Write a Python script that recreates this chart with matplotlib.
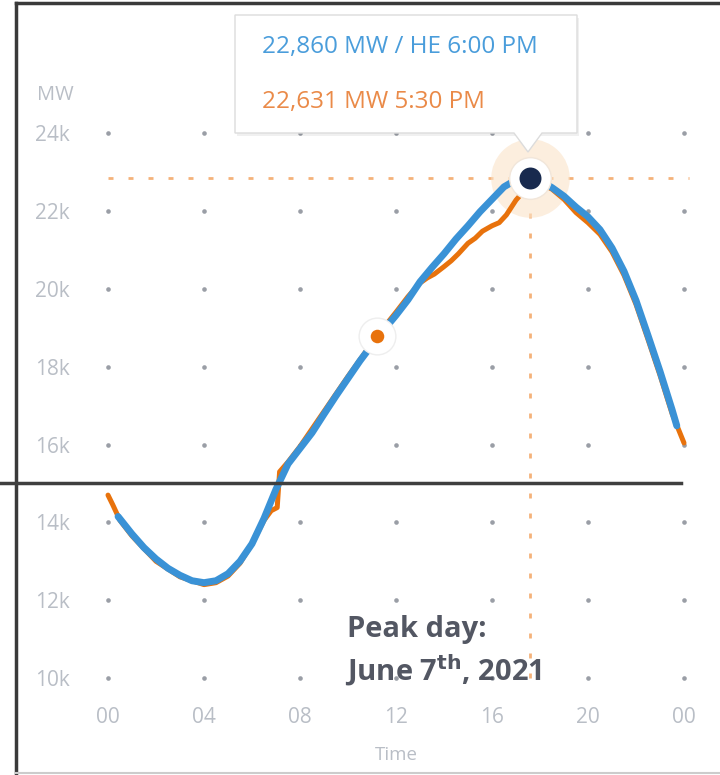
"""Peak day load curve: forecast vs actual (June 7th, 2021)."""

import matplotlib.pyplot as plt
from matplotlib.patches import Polygon, Rectangle
from matplotlib.lines import Line2D

# Forecast (blue) curve, hour of day vs MW
fcst_hours = [0.42, 1.0, 1.5, 2.0, 2.5, 3.0, 3.5, 4.0, 4.5, 5.0, 5.5, 6.0, 6.5, 7.0,
              7.5, 8.0, 8.5, 9.0, 9.5, 10.0, 10.5, 11.0, 11.5, 12.0, 12.5, 13.0,
              13.5, 14.0, 14.5, 15.0, 15.5, 16.0, 16.5, 17.0, 17.6, 18.0, 18.5,
              19.0, 19.5, 20.0, 20.5, 21.0, 21.5, 22.0, 22.5, 23.0, 23.5, 23.7]
fcst_mw = [14150, 13700, 13350, 13060, 12820, 12640, 12500, 12450, 12500, 12680,
           13000, 13450, 14100, 14850, 15500, 15900, 16300, 16780, 17250, 17700,
           18150, 18560, 18950, 19320, 19720, 20180, 20550, 20900, 21280, 21620,
           21980, 22300, 22620, 22800, 22860, 22780, 22600, 22380, 22100, 21850,
           21520, 21050, 20450, 19700, 18800, 17880, 16900, 16480]

# Actual (orange) curve
act_hours = [0.0, 0.2, 0.5, 1.0, 2.0, 3.0, 4.0, 4.5, 5.0, 5.5, 6.0, 6.5, 6.8, 7.05,
             7.15, 7.5, 8.0, 9.0, 10.0, 11.2, 12.0, 12.5, 13.0, 13.3, 13.6, 14.0,
             14.3, 14.6, 15.0, 15.3, 15.6, 16.0, 16.3, 16.6, 17.0, 17.5, 18.0,
             18.5, 19.0, 19.5, 20.0, 20.5, 21.0, 21.5, 22.0, 22.5, 23.0, 23.5, 24.0]
act_mw = [14700, 14450, 14050, 13650, 13000, 12600, 12400, 12450, 12620, 12950,
          13450, 14050, 14300, 14380, 15300, 15550, 15950, 16850, 17750, 18780,
          19400, 19800, 20150, 20280, 20380, 20570, 20720, 20900, 21170, 21300,
          21480, 21620, 21700, 21900, 22280, 22631, 22720, 22560, 22300, 21960,
          21700, 21400, 20950, 20350, 19600, 18700, 17780, 16800, 16040]

peak_hour, peak_mw = 17.6, 22860
act_dot_hour, act_dot_mw = 11.2, 18780

x_ticks = [0, 4, 8, 12, 16, 20, 24]
x_labels = ["00", "04", "08", "12", "16", "20", "00"]
y_ticks = [10000, 12000, 14000, 16000, 18000, 20000, 22000, 24000]
y_labels = ["10k", "12k", "14k", "16k", "18k", "20k", "22k", "24k"]

BLUE = "#3a92d6"
ORANGE = "#e8720c"
LIGHT = "#b9bec6"

plt.rcParams["font.family"] = ["Open Sans", "DejaVu Sans"]

W, H = 720, 775
fig = plt.figure(figsize=(W / 100, H / 100), dpi=100)
ax = fig.add_axes([84 / W, 1 - 697.5 / H, 624 / W, 595.5 / H])
ax.set_xlim(-1, 25)
ax.set_ylim(9500, 24800)
for s in ax.spines.values():
    s.set_visible(False)

# dot grid at tick intersections
gx = [x for x in x_ticks for _ in y_ticks]
gy = [y for _ in x_ticks for y in y_ticks]
ax.scatter(gx, gy, s=11, color="#9a9ea6", zorder=1, linewidths=0)

ax.set_xticks(x_ticks)
ax.set_xticklabels(x_labels)
ax.set_yticks(y_ticks)
ax.set_yticklabels(y_labels)
ax.tick_params(length=0, colors=LIGHT, labelsize=15)
ax.tick_params(axis="x", pad=7)
ax.tick_params(axis="y", pad=10)
ax.set_xlabel("Time", color=LIGHT, fontsize=13.5, labelpad=13)

# crosshair at peak
cross = dict(color="#f4b27a", lw=2, ls=(0, (1.8, 5.4)), zorder=2)
ax.plot([0, 24.2], [peak_mw, peak_mw], **cross)
ax.plot([peak_hour, peak_hour], [10000, peak_mw], **cross)

# soft halo around the peak, under the lines
ax.scatter([peak_hour], [peak_mw], s=3200, color="#fbe3c8", alpha=0.6, zorder=2.5,
           linewidths=0)

ax.plot(act_hours, act_mw, color=ORANGE, lw=3.6, solid_capstyle="round", zorder=3)
ax.plot(fcst_hours, fcst_mw, color=BLUE, lw=5, solid_capstyle="round", zorder=4)

# markers
ax.scatter([act_dot_hour], [act_dot_mw], s=700, color="white", zorder=5,
           edgecolors="#eeeeee", linewidths=1)
ax.scatter([act_dot_hour], [act_dot_mw], s=95, color=ORANGE, zorder=6, linewidths=0)
ax.scatter([peak_hour], [peak_mw], s=900, color="white", zorder=6,
           edgecolors="#f1e6da", linewidths=1)
ax.scatter([peak_hour], [peak_mw], s=250, color="#182a4e", zorder=7, linewidths=0)

# overlay in pixel coordinates for the tooltip and frame
ov = fig.add_axes([0, 0, 1, 1], zorder=10)
ov.set_xlim(0, W)
ov.set_ylim(H, 0)
ov.axis("off")
ov.patch.set_alpha(0)

ov.add_patch(Rectangle((237, 18), 342, 118, color="#000000", alpha=0.06, lw=0))
tip = Polygon([(235, 15), (577, 15), (577, 133), (542, 133), (528, 152),
               (514, 133), (235, 133)], closed=True, facecolor="white",
              edgecolor="#dcdcdc", lw=1)
ov.add_patch(tip)
ov.text(262, 47, "22,860 MW / HE 6:00 PM", color="#4a9ddb", fontsize=17.5,
        va="center", ha="left")
ov.text(262, 102, "22,631 MW 5:30 PM", color="#ea8a48", fontsize=17.5,
        va="center", ha="left")
ov.text(55, 95, "MW", color=LIGHT, fontsize=14.5, va="center", ha="center")

ov.text(347, 630, "Peak day:", color="#535763", fontsize=21, fontweight="bold",
        va="center", ha="left")
ov.text(345, 670, r"June 7$^{\mathbf{th}}$, 2021", color="#535763", fontsize=21,
        fontweight="bold", va="center", ha="left")

# screenshot frame lines
ov.add_line(Line2D([16, 16], [3, H], color="#3a3a3a", lw=2.5))
ov.add_line(Line2D([16, W], [3, 3], color="#3a3a3a", lw=2.5))
ov.add_line(Line2D([0, 681], [483, 483], color="#3f3f3f", lw=2.5))
ov.add_line(Line2D([16, W], [773, 773], color="#cccccc", lw=1.5))

fig.savefig("out.png", dpi=100)
